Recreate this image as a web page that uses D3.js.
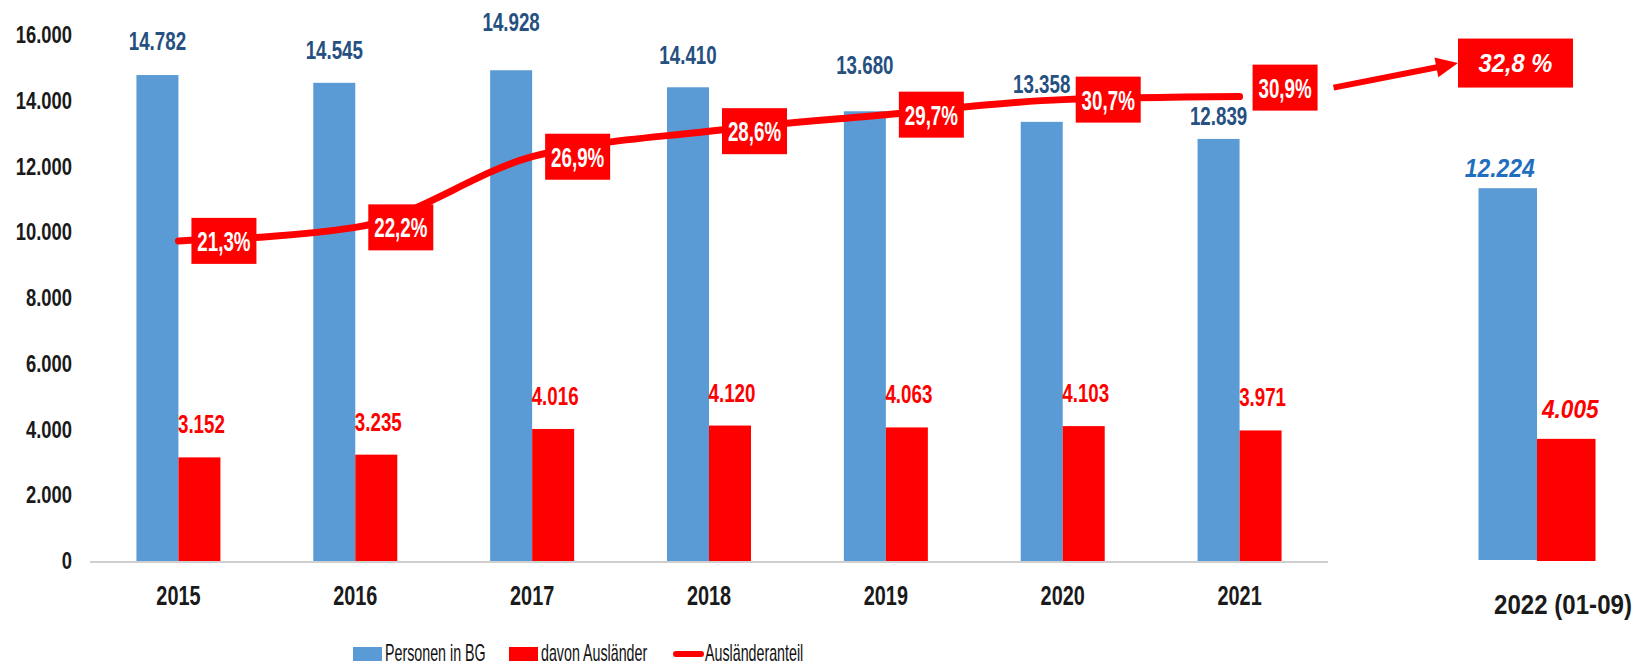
<!DOCTYPE html>
<html>
<head>
<meta charset="utf-8">
<script src="https://cdn.jsdelivr.net/npm/d3@7"></script>
<style>
  body { margin: 0; background: #fff; }
  svg { display: block; font-family: "Liberation Sans", Arial, sans-serif; }
</style>
</head>
<body>
<svg id="chart" width="1642" height="667"></svg>
<script>
// data
const years = ["2015", "2016", "2017", "2018", "2019", "2020", "2021"];
const personen = [14782, 14545, 14928, 14410, 13680, 13358, 12839];
const auslaender = [3152, 3235, 4016, 4120, 4063, 4103, 3971];
const anteil = [21.3, 22.2, 26.9, 28.6, 29.7, 30.7, 30.9];

const label2022 = "2022 (01-09)";
const personen2022 = [12224];
const auslaender2022 = [4005];
const anteil2022 = [32.8];

const yTicks = [0, 2000, 4000, 6000, 8000, 10000, 12000, 14000, 16000];
const legendLabels = ["Personen in BG", "davon Ausländer", "Ausländeranteil"];

// label gap above blue bars (labels were moved by hand in the original)
const blueLabelGap = [25, 24, 39, 23, 37, 29, 14];

const blue = "#5b9bd5", red = "#ff0000", darkBlue = "#25507f";

const de = d3.formatLocale({decimal: ",", thousands: ".", grouping: [3], currency: ["", "€"]});
const fmtN = de.format(",d");
const fmtP = v => de.format(".1f")(v) + "%";

const svg = d3.select("#chart");

const x = d3.scaleBand().domain(years).range([90, 1328]);
const y = d3.scaleLinear().domain([0, 16000]).range([561, 35]);
const yPct = d3.scaleLinear().domain([0, 35]).range([561, 35]);

// the 2022 part is a pasted chart with its own scale
const x22 = d3.scaleBand().domain([label2022]).range([1440, 1634]);
const y22 = d3.scaleLinear().domain([0, 16000]).range([561, 73]);

const groupW = 84;

function addText(parent, tx, ty, str, o) {
    return parent.append("text")
        .attr("transform", `translate(${tx},${ty}) scale(${o.sx || 1},1)`)
        .attr("text-anchor", o.anchor || "middle")
        .attr("font-size", o.size)
        .attr("font-weight", o.weight || "bold")
        .attr("font-style", o.style || "normal")
        .attr("fill", o.fill || "#1a1a1a")
        .text(str);
}

// y axis labels
const yAxisG = svg.append("g").attr("class", "yaxis");
yTicks.forEach(t => {
    addText(yAxisG, 72, y(t) + 8, fmtN(t), {size: 23, sx: 0.8, anchor: "end"});
});

// baseline
svg.append("line")
    .attr("x1", x.range()[0]).attr("x2", x.range()[1])
    .attr("y1", y(0) + 1).attr("y2", y(0) + 1)
    .attr("stroke", "#cfcfcf").attr("stroke-width", 2);

// bars
const barsG = svg.append("g").attr("class", "bars");
years.forEach((yr, i) => {
    const x0 = x(yr) + (x.bandwidth() - groupW) / 2;
    const bw = groupW / 2;
    barsG.append("rect")
        .attr("x", x0).attr("y", y(personen[i]))
        .attr("width", bw).attr("height", y(0) - y(personen[i]))
        .attr("fill", blue);
    barsG.append("rect")
        .attr("x", x0 + bw).attr("y", y(auslaender[i]))
        .attr("width", bw).attr("height", y(0) - y(auslaender[i]))
        .attr("fill", red);

    addText(barsG, x0 + bw / 2, y(personen[i]) - blueLabelGap[i], fmtN(personen[i]),
        {size: 25, sx: 0.75, fill: darkBlue});
    addText(barsG, x0 + bw * 1.5 + 2, y(auslaender[i]) - 24, fmtN(auslaender[i]),
        {size: 25, sx: 0.75, fill: red});

    addText(barsG, x(yr) + x.bandwidth() / 2, 605, yr, {size: 28, sx: 0.71});
});

// 2022 bars
const g22W = 117;
const x220 = x22(label2022) + (x22.bandwidth() - g22W) / 2;
const bw22 = g22W / 2;
barsG.append("rect")
    .attr("x", x220).attr("y", y22(personen2022[0]))
    .attr("width", bw22).attr("height", y22(0) - 1 - y22(personen2022[0]))
    .attr("fill", blue);
barsG.append("rect")
    .attr("x", x220 + bw22).attr("y", y22(auslaender2022[0]))
    .attr("width", bw22).attr("height", y22(0) - y22(auslaender2022[0]))
    .attr("fill", red);
addText(barsG, x220 + bw22 / 2 - 8, y22(personen2022[0]) - 11, fmtN(personen2022[0]),
    {size: 26, sx: 0.88, style: "italic", fill: "#1f6fbf"});
addText(barsG, x220 + bw22 * 1.5 + 4, y22(auslaender2022[0]) - 21, fmtN(auslaender2022[0]),
    {size: 26, sx: 0.87, style: "italic", fill: red});
addText(barsG, x220 + g22W / 2 + 26, 614, label2022, {size: 28, sx: 0.86});

// share line
const pts = years.map((yr, i) => [x(yr) + x.bandwidth() / 2, yPct(anteil[i])]);
const lineG = svg.append("g").attr("class", "line");
lineG.append("path")
    .attr("d", d3.line().curve(d3.curveMonotoneX)(pts))
    .attr("fill", "none")
    .attr("stroke", red)
    .attr("stroke-width", 7)
    .attr("stroke-linecap", "round")
    .attr("stroke-linejoin", "round");

const boxW = 65, boxH = 46;
let lastBox = null;
pts.forEach((p, i) => {
    const bx = p[0] + 13;
    const by = p[1] - boxH / 2 - (i === pts.length - 1 ? 9 : 0);
    lineG.append("rect")
        .attr("x", bx).attr("y", by)
        .attr("width", boxW).attr("height", boxH)
        .attr("fill", red);
    addText(lineG, bx + boxW / 2, by + boxH / 2 + 10, fmtP(anteil[i]),
        {size: 28, sx: 0.67, fill: "#fff"});
    lastBox = {right: bx + boxW, cy: by + boxH / 2};
});

// 2022 share box and arrow
const box22W = 115, box22H = 49;
const box22X = x22(label2022) + x22.bandwidth() / 2 - 79;
const box22Cy = yPct(anteil2022[0]) - 5;
lineG.append("rect")
    .attr("x", box22X).attr("y", box22Cy - box22H / 2)
    .attr("width", box22W).attr("height", box22H)
    .attr("fill", red);
addText(lineG, box22X + box22W / 2, box22Cy + 9, de.format(".1f")(anteil2022[0]) + " %",
    {size: 25, sx: 0.95, style: "italic", fill: "#fff"});

const a0 = [lastBox.right + 16, lastBox.cy];
const a1 = [box22X, box22Cy];
const ang = Math.atan2(a1[1] - a0[1], a1[0] - a0[0]);
const headL = 22, headW = 10;
const base = [a1[0] - headL * Math.cos(ang), a1[1] - headL * Math.sin(ang)];
lineG.append("line")
    .attr("x1", a0[0]).attr("y1", a0[1])
    .attr("x2", base[0] + 2 * Math.cos(ang)).attr("y2", base[1] + 2 * Math.sin(ang))
    .attr("stroke", red).attr("stroke-width", 6);
lineG.append("polygon")
    .attr("points", [
        a1,
        [base[0] - headW * Math.sin(ang), base[1] + headW * Math.cos(ang)],
        [base[0] + headW * Math.sin(ang), base[1] - headW * Math.cos(ang)]
    ].map(d => d.join(",")).join(" "))
    .attr("fill", red);

// legend
const legG = svg.append("g").attr("class", "legend");
const legX = [353, 509, 673];
legG.append("rect").attr("x", legX[0]).attr("y", 647).attr("width", 29).attr("height", 14).attr("fill", blue);
legG.append("rect").attr("x", legX[1]).attr("y", 647).attr("width", 29).attr("height", 14).attr("fill", red);
legG.append("line").attr("x1", legX[2] + 3).attr("x2", legX[2] + 28).attr("y1", 654).attr("y2", 654)
    .attr("stroke", red).attr("stroke-width", 6).attr("stroke-linecap", "round");
legendLabels.forEach((l, i) => {
    addText(legG, legX[i] + 32, 661, l, {size: 23, sx: 0.62, anchor: "start", weight: "normal", fill: "#111"});
});
</script>
</body>
</html>
